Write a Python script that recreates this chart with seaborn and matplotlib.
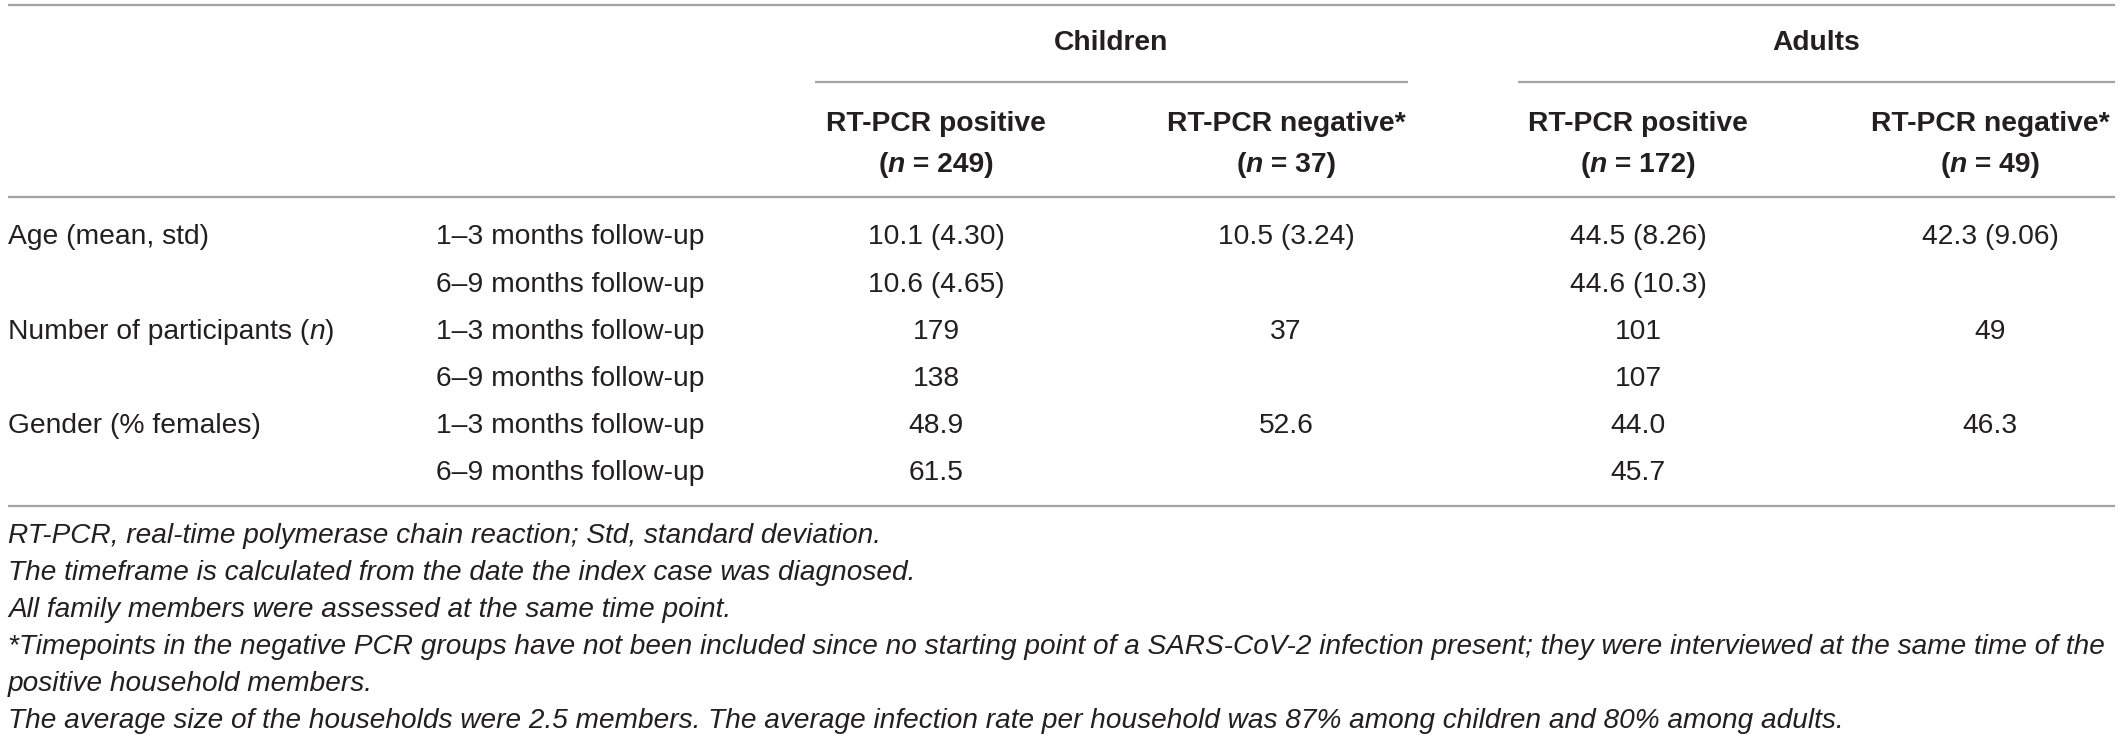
import seaborn as sns
import matplotlib.pyplot as plt

# table content
groups = ["Children", "Adults"]
col_status = ["RT-PCR positive", "RT-PCR negative*", "RT-PCR positive", "RT-PCR negative*"]
col_n = ["249", "37", "172", "49"]
row_vars = ["Age (mean, std)", "", "Number of participants (n)", "", "Gender (% females)", ""]
followup = ["1–3 months follow-up", "6–9 months follow-up"] * 3
children_pos = ["10.1 (4.30)", "10.6 (4.65)", "179", "138", "48.9", "61.5"]
children_neg = ["10.5 (3.24)", "", "37", "", "52.6", ""]
adults_pos = ["44.5 (8.26)", "44.6 (10.3)", "101", "107", "44.0", "45.7"]
adults_neg = ["42.3 (9.06)", "", "49", "", "46.3", ""]
footnotes = [
    "RT-PCR, real-time polymerase chain reaction; Std, standard deviation.",
    "The timeframe is calculated from the date the index case was diagnosed.",
    "All family members were assessed at the same time point.",
    "*Timepoints in the negative PCR groups have not been included since no starting point of a SARS-CoV-2 infection present; they were interviewed at the same time of the",
    "positive household members.",
    "The average size of the households were 2.5 members. The average infection rate per household was 87% among children and 80% among adults.",
]

sns.set_theme(style="white")
plt.rcParams["font.family"] = ["Liberation Sans", "DejaVu Sans"]

W, H = 2120, 741
fig = plt.figure(figsize=(W / 100, H / 100), dpi=100)
ax = fig.add_axes([0, 0, 1, 1])
ax.set_xlim(0, W)
ax.set_ylim(H, 0)
ax.axis("off")

FS = 20.3
TXT = "#231f20"
RULE = "#a3a3a3"
renderer = fig.canvas.get_renderer()


def rich(x, y, parts, ha="left", weight="normal"):
    # draw text pieces (some italic) on one baseline
    arts = []
    for s, style in parts:
        t = ax.text(0, y, s, fontsize=FS, fontstyle=style, fontweight=weight,
                    color=TXT, va="baseline", ha="left")
        arts.append(t)
    widths = [a.get_window_extent(renderer).width for a in arts]
    total = sum(widths)
    x0 = x - total / 2 if ha == "center" else x
    for a, w in zip(arts, widths):
        a.set_x(x0)
        x0 += w


def line(y, x0, x1):
    ax.plot([x0, x1], [y, y], color=RULE, lw=1.6, solid_capstyle="butt")


# rules
line(5, 8, 2115)
line(82, 815, 1408)
line(82, 1518, 2115)
line(197, 8, 2115)
line(506, 8, 2115)

# header
group_x = [1111, 1816]
for g, gx in zip(groups, group_x):
    ax.text(gx, 50, g, fontsize=FS, fontweight="bold", color=TXT, ha="center", va="baseline")

col_x = [936, 1286, 1638, 1990]
for cx, st, n in zip(col_x, col_status, col_n):
    ax.text(cx, 131, st, fontsize=FS, fontweight="bold", color=TXT, ha="center", va="baseline")
    rich(cx, 172, [("(", "normal"), ("n", "italic"), (" = " + n + ")", "normal")],
         ha="center", weight="bold")

# body
row_y = [244, 292, 339, 386, 433, 480]
columns = [children_pos, children_neg, adults_pos, adults_neg]
for i, y in enumerate(row_y):
    lab = row_vars[i]
    if lab.endswith("(n)"):
        rich(8, y, [(lab[:-2], "normal"), ("n", "italic"), (")", "normal")])
    elif lab:
        ax.text(8, y, lab, fontsize=FS, color=TXT, ha="left", va="baseline")
    ax.text(436, y, followup[i], fontsize=FS, color=TXT, ha="left", va="baseline")
    for cx, col in zip(col_x, columns):
        if col[i]:
            ax.text(cx, y, col[i], fontsize=FS, color=TXT, ha="center", va="baseline")

# footnotes - shrink a little so the long line fits like in the original
foot_y = [543, 580, 617, 654, 691, 728]
notes = [ax.text(8, y, s, fontsize=FS, fontstyle="italic", color=TXT, ha="left", va="baseline")
         for y, s in zip(foot_y, footnotes)]
widest = max(t.get_window_extent(renderer).width for t in notes)
if widest > 2100:
    for t in notes:
        t.set_fontsize(FS * 2100 / widest)

fig.savefig("out.png", dpi=100, facecolor="white")
